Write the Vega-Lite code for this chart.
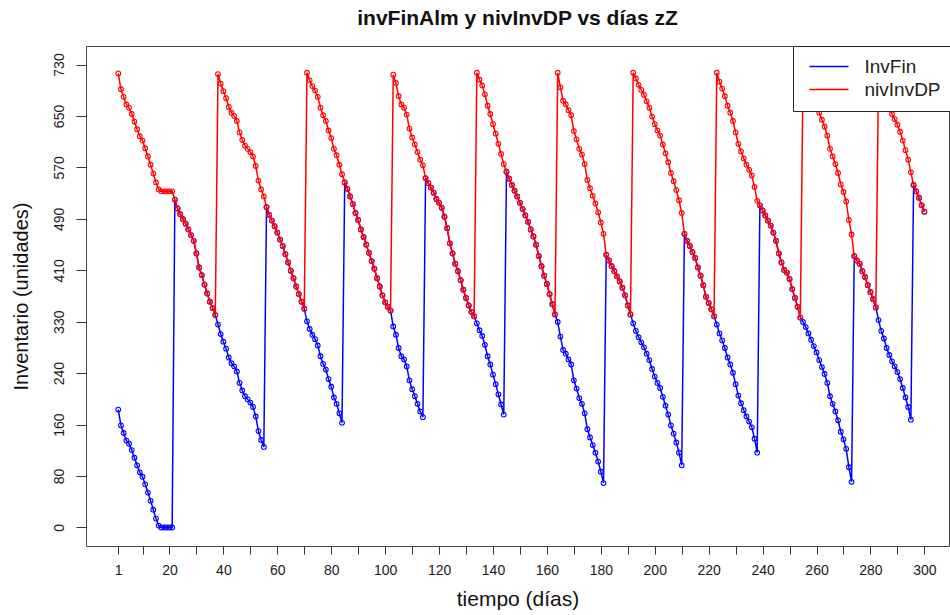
{
  "$schema": "https://vega.github.io/schema/vega-lite/v6.json",
  "width": 863,
  "height": 500,
  "autosize": {"type": "none"},
  "padding": {"left": 86, "top": 46, "right": 1, "bottom": 69},
  "background": "white",
  "config": {
    "font": "Liberation Sans",
    "view": {"stroke": "#444", "strokeWidth": 1}
  },
  "title": {
    "text": "invFinAlm y nivInvDP vs días zZ",
    "fontSize": 21,
    "fontWeight": "bold",
    "color": "#111",
    "anchor": "middle",
    "baseline": "alphabetic",
    "offset": 21,
    "dy": 21
  },
  "data": {"values": [
    {"d":1,"InvFin":186,"nivInvDP":716},{"d":2,"InvFin":161,"nivInvDP":691},{"d":3,"InvFin":149,"nivInvDP":679},{"d":4,"InvFin":137,"nivInvDP":667},{"d":5,"InvFin":132,"nivInvDP":662},
    {"d":6,"InvFin":122,"nivInvDP":652},{"d":7,"InvFin":110,"nivInvDP":640},{"d":8,"InvFin":98,"nivInvDP":628},{"d":9,"InvFin":87,"nivInvDP":617},{"d":10,"InvFin":80,"nivInvDP":610},
    {"d":11,"InvFin":68,"nivInvDP":598},{"d":12,"InvFin":55,"nivInvDP":585},{"d":13,"InvFin":42,"nivInvDP":572},{"d":14,"InvFin":28,"nivInvDP":558},{"d":15,"InvFin":14,"nivInvDP":544},
    {"d":16,"InvFin":3,"nivInvDP":533},{"d":17,"InvFin":0,"nivInvDP":530},{"d":18,"InvFin":0,"nivInvDP":530},{"d":19,"InvFin":0,"nivInvDP":530},{"d":20,"InvFin":0,"nivInvDP":530},
    {"d":21,"InvFin":0,"nivInvDP":530},{"d":22,"InvFin":517,"nivInvDP":517},{"d":23,"InvFin":503,"nivInvDP":503},{"d":24,"InvFin":494,"nivInvDP":494},{"d":25,"InvFin":486,"nivInvDP":486},
    {"d":26,"InvFin":479,"nivInvDP":479},{"d":27,"InvFin":470,"nivInvDP":470},{"d":28,"InvFin":461,"nivInvDP":461},{"d":29,"InvFin":452,"nivInvDP":452},{"d":30,"InvFin":432,"nivInvDP":432},
    {"d":31,"InvFin":410,"nivInvDP":410},{"d":32,"InvFin":398,"nivInvDP":398},{"d":33,"InvFin":383,"nivInvDP":383},{"d":34,"InvFin":369,"nivInvDP":369},{"d":35,"InvFin":356,"nivInvDP":356},
    {"d":36,"InvFin":346,"nivInvDP":346},{"d":37,"InvFin":335,"nivInvDP":335},{"d":38,"InvFin":320,"nivInvDP":715},{"d":39,"InvFin":305,"nivInvDP":700},{"d":40,"InvFin":293,"nivInvDP":688},
    {"d":41,"InvFin":282,"nivInvDP":677},{"d":42,"InvFin":268,"nivInvDP":663},{"d":43,"InvFin":259,"nivInvDP":654},{"d":44,"InvFin":254,"nivInvDP":649},{"d":45,"InvFin":246,"nivInvDP":641},
    {"d":46,"InvFin":228,"nivInvDP":623},{"d":47,"InvFin":216,"nivInvDP":611},{"d":48,"InvFin":207,"nivInvDP":602},{"d":49,"InvFin":202,"nivInvDP":597},{"d":50,"InvFin":197,"nivInvDP":592},
    {"d":51,"InvFin":190,"nivInvDP":585},{"d":52,"InvFin":175,"nivInvDP":570},{"d":53,"InvFin":152,"nivInvDP":547},{"d":54,"InvFin":138,"nivInvDP":533},{"d":55,"InvFin":127,"nivInvDP":522},
    {"d":56,"InvFin":505,"nivInvDP":505},{"d":57,"InvFin":493,"nivInvDP":493},{"d":58,"InvFin":484,"nivInvDP":484},{"d":59,"InvFin":475,"nivInvDP":475},{"d":60,"InvFin":465,"nivInvDP":465},
    {"d":61,"InvFin":454,"nivInvDP":454},{"d":62,"InvFin":444,"nivInvDP":444},{"d":63,"InvFin":431,"nivInvDP":431},{"d":64,"InvFin":418,"nivInvDP":418},{"d":65,"InvFin":405,"nivInvDP":405},
    {"d":66,"InvFin":393,"nivInvDP":393},{"d":67,"InvFin":380,"nivInvDP":380},{"d":68,"InvFin":368,"nivInvDP":368},{"d":69,"InvFin":356,"nivInvDP":356},{"d":70,"InvFin":345,"nivInvDP":345},
    {"d":71,"InvFin":325,"nivInvDP":717},{"d":72,"InvFin":313,"nivInvDP":705},{"d":73,"InvFin":304,"nivInvDP":696},{"d":74,"InvFin":297,"nivInvDP":689},{"d":75,"InvFin":287,"nivInvDP":679},
    {"d":76,"InvFin":270,"nivInvDP":662},{"d":77,"InvFin":258,"nivInvDP":650},{"d":78,"InvFin":249,"nivInvDP":641},{"d":79,"InvFin":234,"nivInvDP":626},{"d":80,"InvFin":222,"nivInvDP":614},
    {"d":81,"InvFin":205,"nivInvDP":597},{"d":82,"InvFin":195,"nivInvDP":587},{"d":83,"InvFin":180,"nivInvDP":572},{"d":84,"InvFin":165,"nivInvDP":557},{"d":85,"InvFin":544,"nivInvDP":544},
    {"d":86,"InvFin":534,"nivInvDP":534},{"d":87,"InvFin":522,"nivInvDP":522},{"d":88,"InvFin":510,"nivInvDP":510},{"d":89,"InvFin":496,"nivInvDP":496},{"d":90,"InvFin":485,"nivInvDP":485},
    {"d":91,"InvFin":470,"nivInvDP":470},{"d":92,"InvFin":458,"nivInvDP":458},{"d":93,"InvFin":446,"nivInvDP":446},{"d":94,"InvFin":433,"nivInvDP":433},{"d":95,"InvFin":420,"nivInvDP":420},
    {"d":96,"InvFin":408,"nivInvDP":408},{"d":97,"InvFin":393,"nivInvDP":393},{"d":98,"InvFin":380,"nivInvDP":380},{"d":99,"InvFin":366,"nivInvDP":366},{"d":100,"InvFin":355,"nivInvDP":355},
    {"d":101,"InvFin":348,"nivInvDP":348},{"d":102,"InvFin":342,"nivInvDP":342},{"d":103,"InvFin":317,"nivInvDP":714},{"d":104,"InvFin":304,"nivInvDP":701},{"d":105,"InvFin":283,"nivInvDP":680},
    {"d":106,"InvFin":270,"nivInvDP":667},{"d":107,"InvFin":265,"nivInvDP":662},{"d":108,"InvFin":254,"nivInvDP":651},{"d":109,"InvFin":232,"nivInvDP":629},{"d":110,"InvFin":218,"nivInvDP":615},
    {"d":111,"InvFin":207,"nivInvDP":604},{"d":112,"InvFin":195,"nivInvDP":592},{"d":113,"InvFin":183,"nivInvDP":580},{"d":114,"InvFin":174,"nivInvDP":571},{"d":115,"InvFin":551,"nivInvDP":551},
    {"d":116,"InvFin":543,"nivInvDP":543},{"d":117,"InvFin":536,"nivInvDP":536},{"d":118,"InvFin":528,"nivInvDP":528},{"d":119,"InvFin":518,"nivInvDP":518},{"d":120,"InvFin":512,"nivInvDP":512},
    {"d":121,"InvFin":504,"nivInvDP":504},{"d":122,"InvFin":490,"nivInvDP":490},{"d":123,"InvFin":472,"nivInvDP":472},{"d":124,"InvFin":448,"nivInvDP":448},{"d":125,"InvFin":432,"nivInvDP":432},
    {"d":126,"InvFin":416,"nivInvDP":416},{"d":127,"InvFin":404,"nivInvDP":404},{"d":128,"InvFin":390,"nivInvDP":390},{"d":129,"InvFin":375,"nivInvDP":375},{"d":130,"InvFin":362,"nivInvDP":362},
    {"d":131,"InvFin":350,"nivInvDP":350},{"d":132,"InvFin":340,"nivInvDP":340},{"d":133,"InvFin":333,"nivInvDP":333},{"d":134,"InvFin":322,"nivInvDP":717},{"d":135,"InvFin":311,"nivInvDP":706},
    {"d":136,"InvFin":302,"nivInvDP":697},{"d":137,"InvFin":288,"nivInvDP":683},{"d":138,"InvFin":270,"nivInvDP":665},{"d":139,"InvFin":257,"nivInvDP":652},{"d":140,"InvFin":241,"nivInvDP":636},
    {"d":141,"InvFin":226,"nivInvDP":621},{"d":142,"InvFin":210,"nivInvDP":605},{"d":143,"InvFin":194,"nivInvDP":589},{"d":144,"InvFin":178,"nivInvDP":573},{"d":145,"InvFin":561,"nivInvDP":561},
    {"d":146,"InvFin":550,"nivInvDP":550},{"d":147,"InvFin":540,"nivInvDP":540},{"d":148,"InvFin":531,"nivInvDP":531},{"d":149,"InvFin":522,"nivInvDP":522},{"d":150,"InvFin":512,"nivInvDP":512},
    {"d":151,"InvFin":502,"nivInvDP":502},{"d":152,"InvFin":492,"nivInvDP":492},{"d":153,"InvFin":482,"nivInvDP":482},{"d":154,"InvFin":470,"nivInvDP":470},{"d":155,"InvFin":459,"nivInvDP":459},
    {"d":156,"InvFin":446,"nivInvDP":446},{"d":157,"InvFin":428,"nivInvDP":428},{"d":158,"InvFin":412,"nivInvDP":412},{"d":159,"InvFin":397,"nivInvDP":397},{"d":160,"InvFin":384,"nivInvDP":384},
    {"d":161,"InvFin":368,"nivInvDP":368},{"d":162,"InvFin":352,"nivInvDP":352},{"d":163,"InvFin":336,"nivInvDP":336},{"d":164,"InvFin":324,"nivInvDP":717},{"d":165,"InvFin":301,"nivInvDP":694},
    {"d":166,"InvFin":280,"nivInvDP":673},{"d":167,"InvFin":274,"nivInvDP":667},{"d":168,"InvFin":265,"nivInvDP":658},{"d":169,"InvFin":257,"nivInvDP":650},{"d":170,"InvFin":232,"nivInvDP":625},
    {"d":171,"InvFin":219,"nivInvDP":612},{"d":172,"InvFin":204,"nivInvDP":597},{"d":173,"InvFin":195,"nivInvDP":588},{"d":174,"InvFin":180,"nivInvDP":573},{"d":175,"InvFin":155,"nivInvDP":548},
    {"d":176,"InvFin":142,"nivInvDP":535},{"d":177,"InvFin":130,"nivInvDP":523},{"d":178,"InvFin":118,"nivInvDP":511},{"d":179,"InvFin":104,"nivInvDP":497},{"d":180,"InvFin":88,"nivInvDP":481},
    {"d":181,"InvFin":70,"nivInvDP":463},{"d":182,"InvFin":430,"nivInvDP":430},{"d":183,"InvFin":421,"nivInvDP":421},{"d":184,"InvFin":412,"nivInvDP":412},{"d":185,"InvFin":404,"nivInvDP":404},
    {"d":186,"InvFin":396,"nivInvDP":396},{"d":187,"InvFin":388,"nivInvDP":388},{"d":188,"InvFin":378,"nivInvDP":378},{"d":189,"InvFin":366,"nivInvDP":366},{"d":190,"InvFin":350,"nivInvDP":350},
    {"d":191,"InvFin":336,"nivInvDP":336},{"d":192,"InvFin":322,"nivInvDP":717},{"d":193,"InvFin":310,"nivInvDP":708},{"d":194,"InvFin":300,"nivInvDP":698},{"d":195,"InvFin":292,"nivInvDP":690},
    {"d":196,"InvFin":284,"nivInvDP":682},{"d":197,"InvFin":274,"nivInvDP":672},{"d":198,"InvFin":264,"nivInvDP":662},{"d":199,"InvFin":250,"nivInvDP":648},{"d":200,"InvFin":238,"nivInvDP":636},
    {"d":201,"InvFin":228,"nivInvDP":626},{"d":202,"InvFin":220,"nivInvDP":618},{"d":203,"InvFin":206,"nivInvDP":604},{"d":204,"InvFin":192,"nivInvDP":590},{"d":205,"InvFin":178,"nivInvDP":576},
    {"d":206,"InvFin":161,"nivInvDP":559},{"d":207,"InvFin":148,"nivInvDP":546},{"d":208,"InvFin":134,"nivInvDP":532},{"d":209,"InvFin":118,"nivInvDP":516},{"d":210,"InvFin":98,"nivInvDP":496},
    {"d":211,"InvFin":463,"nivInvDP":463},{"d":212,"InvFin":452,"nivInvDP":452},{"d":213,"InvFin":444,"nivInvDP":444},{"d":214,"InvFin":434,"nivInvDP":434},{"d":215,"InvFin":425,"nivInvDP":425},
    {"d":216,"InvFin":410,"nivInvDP":410},{"d":217,"InvFin":397,"nivInvDP":397},{"d":218,"InvFin":382,"nivInvDP":382},{"d":219,"InvFin":364,"nivInvDP":364},{"d":220,"InvFin":354,"nivInvDP":354},
    {"d":221,"InvFin":344,"nivInvDP":344},{"d":222,"InvFin":333,"nivInvDP":333},{"d":223,"InvFin":320,"nivInvDP":717},{"d":224,"InvFin":306,"nivInvDP":703},{"d":225,"InvFin":295,"nivInvDP":692},
    {"d":226,"InvFin":283,"nivInvDP":680},{"d":227,"InvFin":268,"nivInvDP":665},{"d":228,"InvFin":257,"nivInvDP":654},{"d":229,"InvFin":244,"nivInvDP":641},{"d":230,"InvFin":226,"nivInvDP":623},
    {"d":231,"InvFin":208,"nivInvDP":605},{"d":232,"InvFin":196,"nivInvDP":593},{"d":233,"InvFin":185,"nivInvDP":582},{"d":234,"InvFin":175,"nivInvDP":572},{"d":235,"InvFin":167,"nivInvDP":564},
    {"d":236,"InvFin":158,"nivInvDP":555},{"d":237,"InvFin":140,"nivInvDP":537},{"d":238,"InvFin":118,"nivInvDP":515},{"d":239,"InvFin":508,"nivInvDP":508},{"d":240,"InvFin":500,"nivInvDP":500},
    {"d":241,"InvFin":492,"nivInvDP":492},{"d":242,"InvFin":484,"nivInvDP":484},{"d":243,"InvFin":476,"nivInvDP":476},{"d":244,"InvFin":465,"nivInvDP":465},{"d":245,"InvFin":452,"nivInvDP":452},
    {"d":246,"InvFin":432,"nivInvDP":432},{"d":247,"InvFin":418,"nivInvDP":418},{"d":248,"InvFin":406,"nivInvDP":406},{"d":249,"InvFin":402,"nivInvDP":402},{"d":250,"InvFin":392,"nivInvDP":392},
    {"d":251,"InvFin":376,"nivInvDP":376},{"d":252,"InvFin":362,"nivInvDP":362},{"d":253,"InvFin":348,"nivInvDP":348},{"d":254,"InvFin":331,"nivInvDP":331},{"d":255,"InvFin":324,"nivInvDP":717},
    {"d":256,"InvFin":316,"nivInvDP":706},{"d":257,"InvFin":306,"nivInvDP":696},{"d":258,"InvFin":296,"nivInvDP":686},{"d":259,"InvFin":286,"nivInvDP":676},{"d":260,"InvFin":276,"nivInvDP":666},
    {"d":261,"InvFin":264,"nivInvDP":654},{"d":262,"InvFin":253,"nivInvDP":643},{"d":263,"InvFin":242,"nivInvDP":632},{"d":264,"InvFin":228,"nivInvDP":618},{"d":265,"InvFin":207,"nivInvDP":597},
    {"d":266,"InvFin":195,"nivInvDP":585},{"d":267,"InvFin":183,"nivInvDP":573},{"d":268,"InvFin":169,"nivInvDP":559},{"d":269,"InvFin":151,"nivInvDP":541},{"d":270,"InvFin":139,"nivInvDP":529},
    {"d":271,"InvFin":124,"nivInvDP":514},{"d":272,"InvFin":95,"nivInvDP":485},{"d":273,"InvFin":72,"nivInvDP":462},{"d":274,"InvFin":428,"nivInvDP":428},{"d":275,"InvFin":421,"nivInvDP":421},
    {"d":276,"InvFin":416,"nivInvDP":416},{"d":277,"InvFin":404,"nivInvDP":404},{"d":278,"InvFin":395,"nivInvDP":395},{"d":279,"InvFin":382,"nivInvDP":382},{"d":280,"InvFin":371,"nivInvDP":371},
    {"d":281,"InvFin":360,"nivInvDP":360},{"d":282,"InvFin":347,"nivInvDP":347},{"d":283,"InvFin":327,"nivInvDP":717},{"d":284,"InvFin":310,"nivInvDP":700},{"d":285,"InvFin":298,"nivInvDP":688},
    {"d":286,"InvFin":283,"nivInvDP":673},{"d":287,"InvFin":272,"nivInvDP":662},{"d":288,"InvFin":262,"nivInvDP":652},{"d":289,"InvFin":254,"nivInvDP":644},{"d":290,"InvFin":245,"nivInvDP":635},
    {"d":291,"InvFin":234,"nivInvDP":624},{"d":292,"InvFin":220,"nivInvDP":610},{"d":293,"InvFin":205,"nivInvDP":595},{"d":294,"InvFin":190,"nivInvDP":580},{"d":295,"InvFin":170,"nivInvDP":560},
    {"d":296,"InvFin":540,"nivInvDP":540},{"d":297,"InvFin":530,"nivInvDP":530},{"d":298,"InvFin":520,"nivInvDP":520},{"d":299,"InvFin":508,"nivInvDP":508},{"d":300,"InvFin":498,"nivInvDP":498}
  ]},
  "transform": [{"fold": ["InvFin", "nivInvDP"], "as": ["serie", "valor"]}],
  "encoding": {
    "x": {
      "field": "d", "type": "quantitative",
      "scale": {"domain": [-10.96, 309.14], "nice": false, "zero": false},
      "axis": {
        "title": "tiempo (días)",
        "values": [1,10,20,30,40,50,60,70,80,90,100,110,120,130,140,150,160,170,180,190,200,210,220,230,240,250,260,270,280,290,300],
        "labelExpr": "(datum.value == 1 || datum.value % 20 == 0) ? datum.label : ''",
        "labelOverlap": false, "labelFlush": false,
        "grid": false, "domain": false,
        "tickSize": 8, "tickColor": "#333", "tickWidth": 1,
        "labelFontSize": 14, "labelColor": "#1a1a1a", "labelPadding": 9,
        "titleFontSize": 21, "titleFontWeight": "normal", "titleColor": "#111", "titlePadding": 11
      }
    },
    "y": {
      "field": "valor", "type": "quantitative",
      "scale": {"domain": [-29.2, 759.2], "nice": false, "zero": false},
      "axis": {
        "title": "Inventario (unidades)",
        "values": [0, 81.111, 162.222, 243.333, 324.444, 405.556, 486.667, 567.778, 648.889, 730],
        "labelExpr": "['0','80','160','240','330','410','490','570','650','730'][round(datum.value * 9 / 730)]",
        "labelAngle": 270, "labelAlign": "center", "labelBaseline": "alphabetic",
        "labelOverlap": false, "labelFlush": false,
        "grid": false, "domain": false,
        "tickSize": 10, "tickColor": "#333", "tickWidth": 1,
        "labelFontSize": 14, "labelColor": "#1a1a1a", "labelPadding": 13,
        "titleFontSize": 20, "titleFontWeight": "normal", "titleColor": "#111", "titlePadding": 21
      }
    },
    "color": {
      "field": "serie", "type": "nominal",
      "scale": {"domain": ["InvFin", "nivInvDP"], "range": ["#0000FF", "#FF0000"]},
      "legend": {
        "orient": "none", "legendX": 707, "legendY": 0,
        "title": null,
        "symbolType": "M-3,0H3", "symbolSize": 169, "symbolStrokeWidth": 1.6,
        "symbolOffset": 15.5, "labelOffset": 26,
        "labelFontSize": 19, "labelColor": "#222",
        "padding": 11, "rowPadding": 3,
        "strokeColor": "#222", "fillColor": "white", "cornerRadius": 0
      }
    }
  },
  "layer": [
    {
      "transform": [{"filter": "datum.serie == 'InvFin'"}],
      "mark": {"type": "line", "strokeWidth": 1.5, "point": {"filled": false, "size": 22, "strokeWidth": 1.1}}
    },
    {
      "transform": [{"filter": "datum.serie == 'nivInvDP'"}],
      "mark": {"type": "line", "strokeWidth": 1.5, "point": {"filled": false, "size": 22, "strokeWidth": 1.1}}
    }
  ]
}
